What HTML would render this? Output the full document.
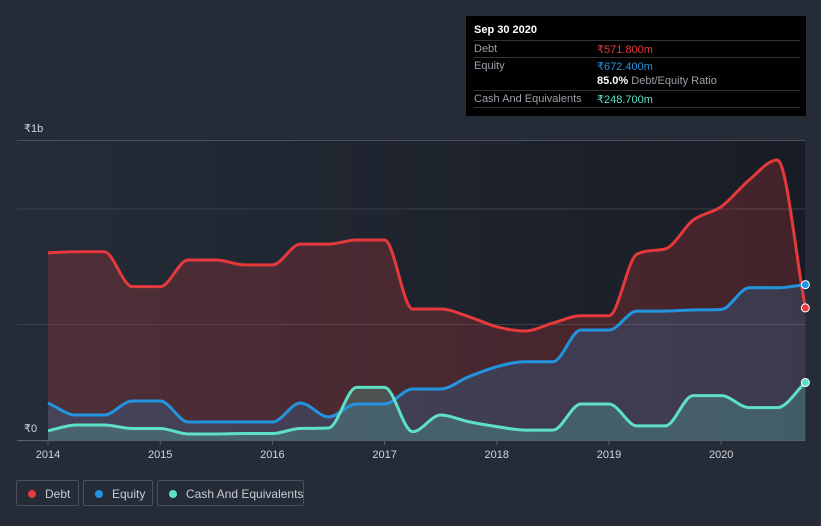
<!DOCTYPE html>
<html><head><meta charset="utf-8"><style>
body{margin:0;background:#252c38;font-family:"Liberation Sans",sans-serif;}
#wrap{position:relative;width:821px;height:526px;overflow:hidden;background:#252c38}
svg{position:absolute;left:0;top:0}
.tt{position:absolute;left:466px;top:16px;width:340px;height:100px;background:#000;color:#fff;font-size:11px}
.row{position:absolute;left:8px;width:326px;border-top:1px solid #333;height:16px}
.row span{position:absolute;top:2px;white-space:nowrap}
.lg{position:absolute;top:480px;height:26px;border:1px solid #4a515c;border-radius:2px;color:#c8ccd2;font-size:12px;line-height:26px;box-sizing:border-box;white-space:nowrap}
.lg i{position:absolute;left:11px;top:9px;width:8px;height:8px;border-radius:50%}
.lg span{position:absolute;left:28px;white-space:nowrap}
</style></head><body>
<div id="wrap">
<svg id="chart" width="821" height="526">
<defs>
<linearGradient id="bg" x1="0" y1="0" x2="1" y2="0"><stop offset="0" stop-color="#252c38"/><stop offset="1" stop-color="#181c25"/></linearGradient>
</defs>
<rect x="17" y="140" width="788" height="300" fill="url(#bg)"/>
<g id="grid"></g><g id="areas"></g><g id="lines"></g><g id="axis"></g>
</svg>
<div class="tt">
<div style="position:absolute;left:8px;top:8px;font-weight:bold">Sep 30 2020</div>
<div class="row" style="top:24px"><span style="color:#9aa0a8">Debt</span><span style="left:123px;color:#e5393c">₹571.800m</span></div>
<div class="row" style="top:41px"><span style="color:#9aa0a8">Equity</span><span style="left:123px;color:#2394df">₹672.400m</span></div>
<div style="position:absolute;left:131px;top:59px;white-space:nowrap"><b>85.0%</b> <span style="color:#9aa0a8">Debt/Equity Ratio</span></div>
<div class="row" style="top:74px"><span style="color:#9aa0a8">Cash And Equivalents</span><span style="left:123px;color:#5de0c5">₹248.700m</span></div>
<div class="row" style="top:91px;height:0"></div>
</div>
<div class="lg" style="left:16px;width:63px"><i style="background:#e5393c"></i><span>Debt</span></div>
<div class="lg" style="left:83px;width:70px"><i style="background:#2394df"></i><span>Equity</span></div>
<div class="lg" style="left:157px;width:147px"><i style="background:#5de0c5"></i><span>Cash And Equivalents</span></div>
</div>
<script>
const dates=[2014,2014.25,2014.5,2014.75,2015,2015.25,2015.5,2015.75,2016,2016.25,2016.5,2016.75,2017,2017.25,2017.5,2017.75,2018,2018.25,2018.5,2018.75,2019,2019.25,2019.5,2019.75,2020,2020.25,2020.5,2020.75];
const debt=[810,815,815,664,664,779,779,758,758,848,848,866,866,567,567,534,490,472,506,538,538,805,827,952,1010,1126,1212,571.8];
const equity=[160,108,108,169,169,78,78,78,78,160,100,156,156,221,221,274,317,339,339,476,476,558,558,563,565,659,659,672.4];
const cash=[40,65,65,50,50,26,26,28,28,50,52,228,228,36,108,79,58,43,43,156,156,61,61,192,192,140,140,248.7];
const yearTicks=[2014,2015,2016,2017,2018,2019,2020];
const gridVals=[500,1000];
const X=d=>48+(d-2014)*112.2;
const Y=v=>440-v*0.231;
const NS='http://www.w3.org/2000/svg';
function mk(t,a,p){const e=document.createElementNS(NS,t);for(const k in a)e.setAttribute(k,a[k]);p.appendChild(e);return e;}
function curve(xs,ys){const n=xs.length,d=[],m=[];for(let i=0;i<n-1;i++)d.push((ys[i+1]-ys[i])/(xs[i+1]-xs[i]));
for(let i=0;i<n;i++){if(i==0)m.push(d[0]);else if(i==n-1)m.push(d[n-2]);else m.push(d[i-1]*d[i]<=0?0:(d[i-1]+d[i])/2);}
for(let i=0;i<n-1;i++){if(d[i]==0){m[i]=0;m[i+1]=0;continue;}const a=m[i]/d[i],b=m[i+1]/d[i],s=a*a+b*b;if(s>9){const t=3/Math.sqrt(s);m[i]=t*a*d[i];m[i+1]=t*b*d[i];}}
let p='M'+xs[0]+','+ys[0];for(let i=0;i<n-1;i++){const h=(xs[i+1]-xs[i])/3;p+=' C'+(xs[i]+h)+','+(ys[i]+m[i]*h)+' '+(xs[i+1]-h)+','+(ys[i+1]-m[i+1]*h)+' '+xs[i+1]+','+ys[i+1];}return p;}
const grid=document.getElementById('grid');
let gl=mk('line',{x1:17,x2:805,y1:140.5,y2:140.5,stroke:'#4a505a'},grid);

gridVals.forEach(v=>{const l=mk('line',{x1:17,x2:805,y1:Y(v),y2:Y(v),stroke:'#3a404a'},grid);
});
const series=[[debt,'#e5393c','rgba(229,57,60,0.22)','debt'],[equity,'#2394df','rgba(35,148,223,0.2)','equity'],[cash,'#5de0c5','rgba(93,224,197,0.22)','cash']];
const xs=dates.map(X);
series.forEach(([vals,c,f,n])=>{const ys=vals.map(Y);const p=curve(xs,ys);
const a=mk('path',{d:p+' L'+xs[xs.length-1]+',440 L'+xs[0]+',440 Z',fill:f},document.getElementById('areas'));

const l=mk('path',{d:p,fill:'none',stroke:c,'stroke-width':3},document.getElementById('lines'));

const dt=mk('circle',{cx:xs[xs.length-1],cy:ys[ys.length-1],r:4,fill:c,stroke:'#fff','stroke-width':1},document.getElementById('lines'));
});
const ax=document.getElementById('axis');
const al=mk('line',{x1:17,x2:805,y1:440.5,y2:440.5,stroke:'#5a606a'},ax);

yearTicks.forEach(t=>{const tk=mk('line',{x1:X(t),x2:X(t),y1:440,y2:445,stroke:'#5a606a'},ax);

const tx=mk('text',{x:X(t),y:458,fill:'#d0d4da','font-size':11,'text-anchor':'middle'},ax);tx.textContent=t;
});
const t1=mk('text',{x:24,y:132,fill:'#d0d4da','font-size':11},ax);t1.textContent='₹1b';

const t0=mk('text',{x:24,y:432,fill:'#d0d4da','font-size':11},ax);t0.textContent='₹0';

</script>
</body></html>
